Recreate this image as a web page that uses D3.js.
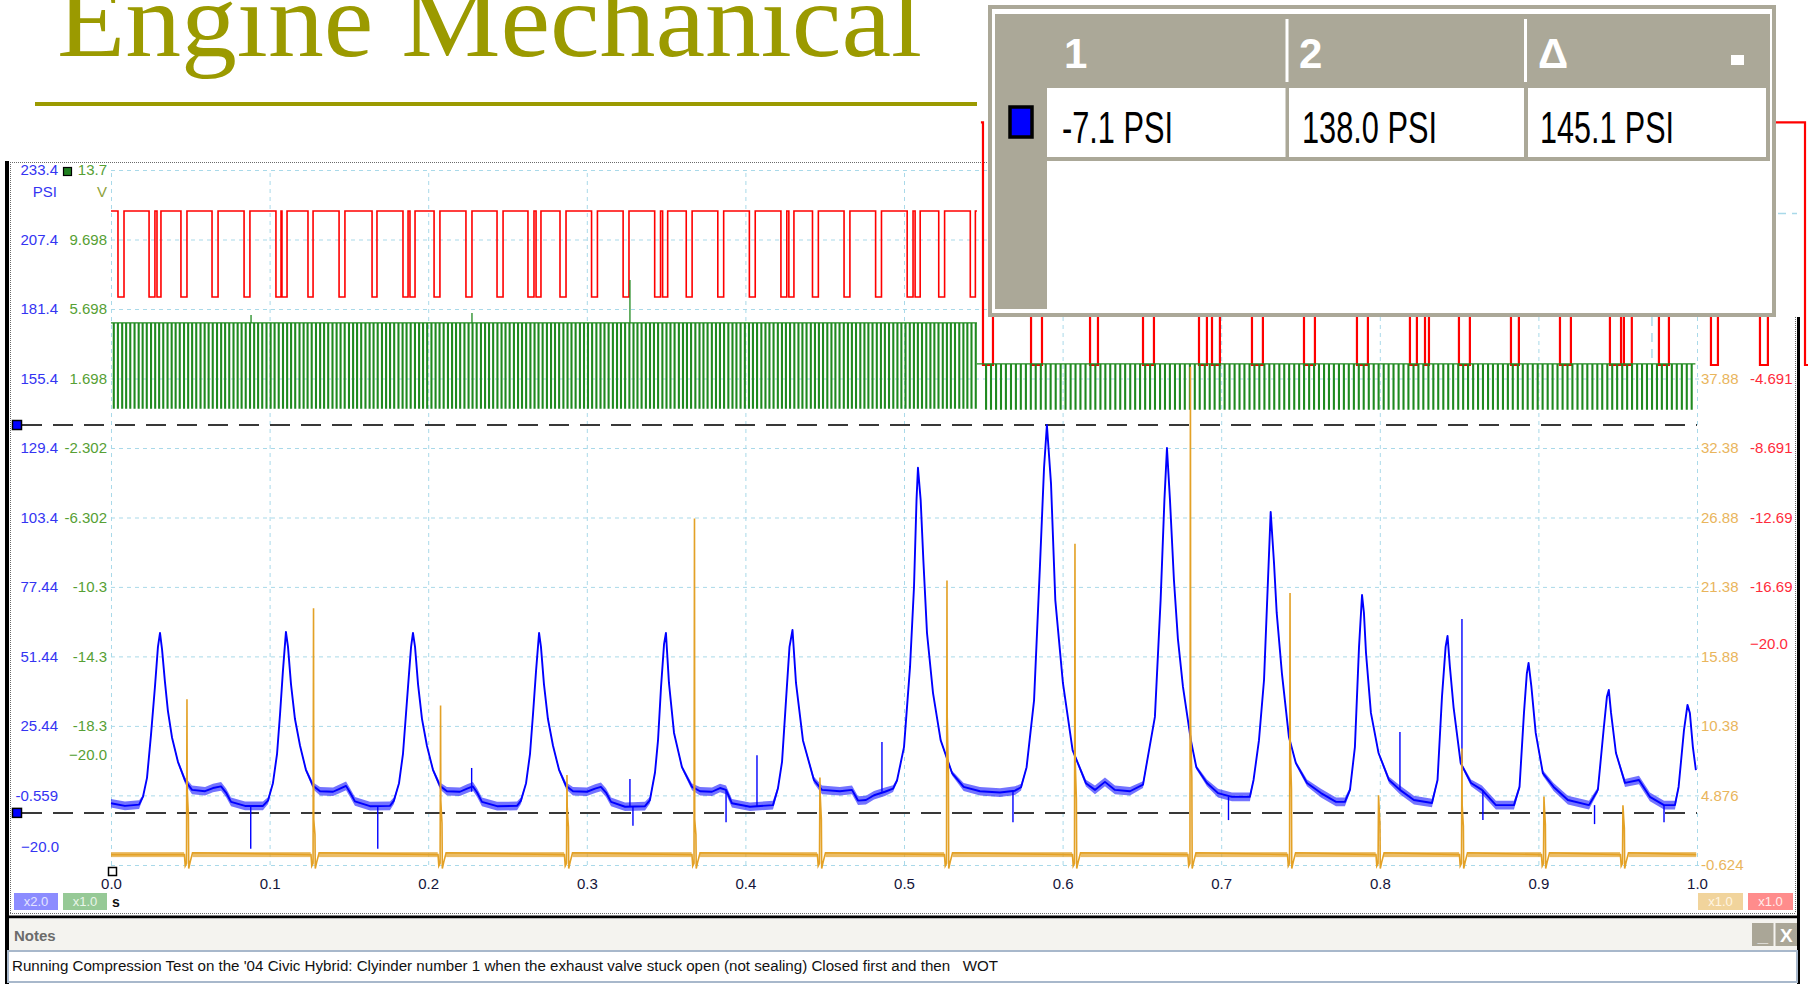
<!DOCTYPE html>
<html><head><meta charset="utf-8">
<script src="https://cdn.jsdelivr.net/npm/d3@7"></script>
<style>
html,body{margin:0;padding:0;background:#fff;}
svg{display:block;}
</style></head><body>
<svg id="chart" width="1808" height="984"></svg>
<script>
// ---------------- data ----------------
const titleText = "Engine Mechanical";
const notesText = "Running Compression Test on the '04 Civic Hybrid: Clyinder number 1 when the exhaust valve stuck open (not sealing) Closed first and then   WOT";

// time axis (seconds)
const timeTicks = ["0.0","0.1","0.2","0.3","0.4","0.5","0.6","0.7","0.8","0.9","1.0"];
// channel A (PSI, blue) and channel B (V, green) on the left
const psiTicks = ["233.4","207.4","181.4","155.4","129.4","103.4","77.44","51.44","25.44","-0.559"];
const voltTicks = ["13.7","9.698","5.698","1.698","-2.302","-6.302","-10.3","-14.3","-18.3"];
// channel C (orange) and channel D (red) on the right
const orangeTicks = ["37.88","32.38","26.88","21.38","15.88","10.38","4.876","-0.624"];
const redTicks = ["-4.691","-8.691","-12.69","-16.69"];
const lowerLimit = -20.0;

// ruler positions on channel A (PSI)
const cursorPsi = [-7.1, 138.0];

// channel A pressure: [time ms, PSI, noise half-band PSI]
const psiTrace = [
[0,-3.5,1.3],[8.8,-4.5,1.3],[17.7,-4.0,1.3],[20.2,-1,0.5],[22.7,6,0],[25.2,22,0],[27.7,40,0],[29.6,55,0],[30.9,60.2,0],[32.2,54,0],[34.0,42,0],[35.9,31,0],[38.5,21,0.3],[42.2,12,0.6],[46.7,5,1],[51.1,1.5,1.3],[59.3,1.0,1.3],[64.3,2.2,1.3],[69.4,2.8,1.3],[72.5,0.5,1.3],[75.7,-3.0,1.3],[84.5,-4.5,1.3],[95.8,-4.5,1.3],
[99.0,-2.5,1],[102.1,4,0.3],[104.7,15,0],[106.6,30,0],[108.4,46,0],[110.3,60.6,0],[111.6,55,0],[113.5,41,0],[116.0,28,0],[119.2,18,0.3],[122.9,9,0.6],[127.4,3,1],[131.8,1.0,1.3],[140.0,0.8,1.3],[144.4,2.0,1.3],[148.2,3.0,1.3],[150.7,0.5,1.3],[153.8,-2.8,1.3],[163.3,-4.6,1.3],[175.9,-4.5,1.3],
[178.4,-2.5,1],[181.6,4,0.3],[184.1,15,0],[186.0,30,0],[187.9,45,0],[189.2,55,0],[190.4,60.2,0],[191.7,55,0],[193.6,41,0],[196.1,28,0],[199.2,18,0.3],[203.0,9,0.6],[207.4,3,1],[211.8,1.0,1.3],[220.0,0.8,1.3],[224.5,2.0,1.3],[228.2,2.8,1.3],[230.8,0.5,1.3],[233.9,-3.0,1.3],[243.4,-4.6,1.3],[256.0,-4.5,1.3],
[258.5,-2.5,1],[261.7,4,0.3],[264.2,15,0],[266.1,30,0],[268.0,46,0],[269.9,60.2,0],[271.1,55,0],[273.0,41,0],[275.5,28,0],[278.7,18,0.3],[282.5,9,0.6],[286.9,3,1],[291.3,1.0,1.3],[300.1,0.8,1.3],[305.2,2.0,1.3],[308.9,2.6,1.3],[312.1,0.5,1.3],[315.3,-3.0,1.3],[324.1,-4.8,1.3],[336.7,-4.6,1.3],
[339.8,-2.3,1],[343.0,8,0.3],[344.9,20,0],[346.8,40,0],[348.7,56,0],[349.9,60.2,0],[351.8,41.5,0],[355.0,22.8,0.3],[360.0,10,0.6],[366.3,2.6,1],[371.4,1.0,1.3],[378.9,0.8,1.3],[384.0,2.2,1.3],[387.8,1.5,1.3],[391.5,-3.5,1.3],[402.9,-4.8,1.3],[417.4,-4.2,1.3],
[420.5,2,0.8],[423.1,12,0.2],[425.6,35,0],[427.8,55,0],[429.7,61.3,0],[431.9,41.5,0],[436.3,20,0.3],[443.2,5.2,1],[448.3,1.5,1.3],[459.6,1.0,1.3],[467.2,1.5,1.3],[471.0,-2.5,1.3],[476.0,-2.3,1.3],[481.1,-0.5,1.3],[488.0,0.8,1.3],[493.1,2.0,1],
[495.6,5,0.5],[500.0,17.5,0],[503.8,47.5,0],[506.3,77.4,0],[507.9,110,0],[508.8,122,0],[510.5,110,0],[512.2,87.5,0],[514.5,60.2,0],[518.3,37.7,0],[523.1,20.1,0.3],[530.3,7.8,0.7],[537.6,2.6,1.2],[547.9,1.0,1.3],[560.5,0.5,1.3],[570.0,1.2,1.3],[573.8,2.5,1],
[577.3,10,0.3],[582.0,35,0],[585.7,85,0],[588.3,122,0],[590.1,138,0],[592.7,116,0],[595.4,72.5,0],[600.2,41.5,0],[606.3,16.4,0.4],[614.7,4,1],[620.4,1.5,1.3],[626.7,4.5,1.3],[633.0,1.5,1.3],[642.5,1.0,1.3],[650.7,3.5,1],
[658.2,28.8,0],[661.8,72.5,0],[664.2,110,0],[665.8,129.4,0],[667.7,110,0],[670.2,80,0],[672.7,58,0],[675.9,40,0],[680.9,20,0.3],[684.3,10,0.6],[691.0,4.1,1],[698.0,0.3,1.3],[706.8,-1.1,1.3],[718.1,-1.1,1.3],
[720.4,5.2,0.5],[723.8,20,0],[727.0,42.6,0],[729.5,80,0],[731.2,105.5,0],[733.3,86.4,0],[735.0,67.7,0],[738.3,45,0],[742.7,21.3,0.3],[747.1,11.5,0.6],[754.1,4.1,1],[762.9,0.3,1.3],[772.4,-3.0,1.3],[778.0,-3.0,1.3],
[781.2,1.5,0.8],[784.3,17.5,0],[786.9,55,0],[788.8,74.4,0],[790.0,67.7,0],[791.3,52.7,0],[794.4,30.3,0.2],[799.2,15.3,0.5],[805.8,5.2,1],[812.7,1.5,1.3],[821.5,-2.3,1.3],[832.9,-3.4,1.3],
[836.4,5.2,0.5],[839.2,36.3,0],[841.5,55,0],[842.7,59.1,0],[844.2,47.5,0],[846.5,32.5,0],[851.0,11.5,0.5],[857.5,4.1,1],[864.4,1.5,1.3],[873.2,-4.2,1.3],[884.6,-4.2,1.3],
[888.1,2.6,0.8],[890.9,30.3,0],[892.7,45,0],[893.8,49,0],[895.6,40,0],[898.3,22.8,0.3],[902.8,7.8,0.8],[909.6,2.6,1.2],[918.6,-2.3,1.3],[931.9,-4.2,1.3],
[937.5,1.5,0.8],[941.1,23.9,0],[943.2,36.3,0],[944.4,38.9,0],[945.8,30.3,0],[948.9,15.3,0.5],[954.6,4.1,1.2],[963.4,5.2,1.3],[970.3,-1.1,1.3],[979.2,-4.2,1.3],[986.1,-4.2,1.3],
[988.4,2.6,0.8],[991.8,23.9,0],[994.0,33.3,0],[995.5,30.3,0],[997.4,17.5,0.3],[999.3,8.9,0.5]
];
// channel A single-sample glitches: [time ms, from PSI, to PSI]
const psiGlitches = [[88.1,-4.5,-20.5],[168.2,-4.6,-20.5],[227.4,0.8,9.7],[327.2,-4.6,5.6],[329.1,-4.6,-11.9],[387.8,1.5,-10.6],[407.3,-4.8,14.5],[486.1,0.8,19.4],[568.7,1.0,-10.6],[704.6,-1.1,-9.8],[812.7,1.5,23.2],[851.8,11.5,65.4],[865.0,1.5,-9.8],[935.4,-4.2,-11.3],[979.2,-4.2,-10.6]];

// channel C ignition events: [time ms, peak V, burn V]
const orangeSparks = [[47.9,12.5,5.5],[127.7,19.7,3.0],[207.8,12.0,4.5],[287.5,6.5,4.0],[367.9,26.8,3.0],[447.0,6.3,5.0],[527.1,21.9,11.1],[607.8,24.8,7.7],[680.6,38.8,10.4],[743.4,20.9,9.0],[799.2,4.9,4.5],[851.8,8.6,4.1],[903.5,4.8,4.3],[953.3,4.1,3.8]];

// channel D (red) low pulses [fall ms, rise ms], first part of the capture
const redPulsesA = [[4.4,8.2],[24.0,27.7],[29.0,31.5],[44.1,47.9],[63.7,67.5],[83.9,87.6],[104.0,107.2],[107.8,111.0],[124.2,127.4],[143.8,147.5],[164.6,167.7],[184.1,187.3],[188.5,191.7],[203.7,207.4],[223.8,227.6],[243.4,247.2],[262.9,266.7],[268.0,271.1],[283.1,286.9],[303.0,306.7],[322.9,326.6],[342.8,346.5],[347.8,351.0],[362.7,366.4],[382.6,386.3],[402.5,406.2],[422.4,426.1],[427.4,430.6],[442.3,446.0],[462.2,465.9],[482.1,485.8],[502.0,505.7],[507.0,510.2],[521.9,525.6],[541.8,545.0]];
// channel D low pulses in the later part, drawn with a taller gain
const redPulsesB = [[549.8,556.1],[580.1,587.0],[617.3,622.3],[650.7,657.6],[686.0,691.0],[694.2,699.2],[719.4,726.3],[752.2,759.1],[785.6,792.5],[819.0,823.4],[828.5,831.0],[849.9,856.8],[882.7,887.7],[913.6,920.5],[945.1,952.1],[953.9,958.9],[976.0,982.3],[1008.8,1013.2],[1039.7,1044.7],[1068.1,1080.0]];

// channel B (green) tooth dips, ms
const greenDipsA = [1.5,4.1,6.8,9.3,11.9,14.6,17.2,19.7,22.3,25.0,27.6,30.1,32.7,35.4,38.0,40.5,43.1,45.8,48.4,50.9,53.5,56.2,58.8,61.3,63.9,66.6,69.2,71.7,74.3,77.0,79.6,82.1,84.7,87.4,90.0,92.5,95.1,97.8,100.4,102.9,105.5,108.2,110.8,113.3,115.9,118.6,121.2,123.7,126.3,129.0,131.6,134.1,136.7,139.4,142.0,144.5,147.1,149.8,152.4,154.9,157.5,160.2,162.8,165.3,167.9,170.6,173.2,175.7,178.3,181.0,183.6,186.1,188.7,191.4,194.0,196.5,199.1,201.8,204.4,206.9,209.5,212.2,214.8,217.3,219.9,222.6,225.2,227.7,230.3,233.0,235.6,238.1,240.7,243.4,246.0,248.5,251.1,253.8,256.4,258.9,261.5,264.2,266.8,269.3,271.9,274.6,277.2,279.7,282.3,285.0,287.6,290.1,292.7,295.4,298.0,300.5,303.1,305.8,308.4,310.9,313.5,316.2,318.8,321.3,323.9,326.6,329.2,331.7,334.3,337.0,339.6,342.1,344.7,347.4,350.0,352.5,355.1,357.8,360.4,362.9,365.5,368.2,370.8,373.3,375.9,378.6,381.2,383.7,386.3,389.0,391.6,394.1,396.7,399.4,402.0,404.5,407.1,409.8,412.4,414.9,417.5,420.2,422.8,425.3,427.9,430.6,433.2,435.7,438.3,441.0,443.6,446.1,448.7,451.4,454.0,456.5,459.1,461.8,464.4,466.9,469.5,472.2,474.8,477.3,479.9,482.6,485.2,487.7,490.3,493.0,495.6,498.1,500.7,503.4,506.0,508.5,511.1,513.8,516.4,518.9,521.5,524.2,526.8,529.3,531.9,534.6,537.2,539.7,542.3,545.0];
const greenDipsB = [551.5,554.6,557.8,560.9,564.0,567.2,570.3,573.4,576.6,579.7,582.8,586.0,589.1,592.2,595.4,598.5,601.6,604.8,607.9,611.0,614.2,617.3,620.4,623.6,626.7,629.8,633.0,636.1,639.2,642.4,645.5,648.6,651.8,654.9,658.0,661.2,664.3,667.4,670.6,673.7,676.8,680.0,683.1,686.2,689.4,692.5,695.6,698.8,701.9,705.0,708.2,711.3,714.4,717.6,720.7,723.8,727.0,730.1,733.2,736.4,739.5,742.6,745.8,748.9,752.0,755.2,758.3,761.4,764.6,767.7,770.8,774.0,777.1,780.2,783.4,786.5,789.6,792.8,795.9,799.0,802.2,805.3,808.4,811.6,814.7,817.8,821.0,824.1,827.2,830.4,833.5,836.6,839.8,842.9,846.0,849.2,852.3,855.4,858.6,861.7,864.8,868.0,871.1,874.2,877.4,880.5,883.6,886.8,889.9,893.0,896.2,899.3,902.4,905.6,908.7,911.8,915.0,918.1,921.2,924.4,927.5,930.6,933.8,936.9,940.0,943.2,946.3,949.4,952.6,955.7,958.8,962.0,965.1,968.2,971.4,974.5,977.6,980.8,983.9,987.0,990.2,993.3,996.4];
// channel B single glitches: [time ms, V]
const greenGlitches = [[88.3,5.35],[227.6,5.47],[327.2,7.37]];

// ---------------- layout & scales ----------------
const svg = d3.select("#chart");
const FONT = "'Liberation Sans', Arial, sans-serif";
const plot = {left:111, right:1697, top:170, bottom:865};
const x = d3.scaleLinear().domain([0,1000]).range([plot.left, plot.right]);
const yPsi = d3.scaleLinear().domain([233.4,-26.6]).range([plot.top, plot.bottom]);
const yVolt = d3.scaleLinear().domain([13.7,-26.3]).range([plot.top, plot.bottom]);
const yOrange = d3.scaleLinear().domain([54.38,-0.624]).range([plot.top, plot.bottom]);
const yRed = d3.scaleLinear().domain([7.309,-32.691]).range([plot.top, plot.bottom]);
// later segment of channels B and D is shown at a different vertical gain
const yRedB = d3.scaleLinear().domain([0,5]).range([365,120]);
const yGreenB = d3.scaleLinear().domain([0,5]).range([409,363]);

const COL = {blue:"#0000ff", green:"#1f8a1f", red:"#ff0000", orange:"#e3a126",
  grid:"#a9d9e9", lblBlue:"#3434f2", lblGreen:"#56a034", lblOrange:"#e9b55c", lblRed:"#ff2b3b"};

// ---------------- plot window frame ----------------
svg.append("rect").attr("x",5).attr("y",161).attr("width",4).attr("height",823).attr("fill","#000");
svg.append("rect").attr("x",1797).attr("y",317).attr("width",3).attr("height",667).attr("fill","#000");
const dotted = (x1,y1,x2,y2) => svg.append("line").attr("x1",x1).attr("y1",y1).attr("x2",x2).attr("y2",y2)
  .attr("stroke","#6a6a6a").attr("stroke-width",1).attr("stroke-dasharray","1,1");
dotted(10.5,162,10.5,913); dotted(10,162.5,988,162.5); dotted(10,913.5,1796,913.5); dotted(1795.5,317,1795.5,913);

// ---------------- grid ----------------
const gGrid = svg.append("g");
gGrid.append("g").attr("transform",`translate(0,${plot.bottom})`)
  .call(d3.axisBottom(x).tickValues(timeTicks.map(t=>+t*1000)).tickSize(-(plot.bottom-plot.top)).tickFormat(""))
  .call(g=>g.select(".domain").remove());
const gridPsi = psiTicks.map(Number).concat([yPsi.domain()[1]]);
gGrid.append("g").attr("transform",`translate(${plot.left},0)`)
  .call(d3.axisLeft(yPsi).tickValues(gridPsi).tickSize(-(plot.right-plot.left+3)).tickFormat(""))
  .call(g=>g.select(".domain").remove());
gGrid.selectAll("line").attr("stroke",COL.grid).attr("stroke-width",1).attr("stroke-dasharray","4,4");
// grid marks of the later segment
svg.append("line").attr("x1",x(971.6)).attr("x2",x(971.6)).attr("y1",317).attr("y2",362)
  .attr("stroke",COL.grid).attr("stroke-dasharray","9,7").attr("stroke-width",1.5);
svg.append("line").attr("x1",1778).attr("x2",1797).attr("y1",213.5).attr("y2",213.5)
  .attr("stroke",COL.grid).attr("stroke-dasharray","8,6").attr("stroke-width",1.5);

// ---------------- rulers ----------------
cursorPsi.forEach(c => {
  svg.append("line").attr("x1",22).attr("x2",plot.right).attr("y1",yPsi(c)).attr("y2",yPsi(c))
    .attr("stroke","#383838").attr("stroke-width",2).attr("stroke-dasharray","20,11");
  svg.append("rect").attr("x",12.5).attr("y",yPsi(c)-4.5).attr("width",9).attr("height",9)
    .attr("fill","#0000ff").attr("stroke","#000").attr("stroke-width",1.5);
});

// ---------------- traces ----------------
const stepPts = (pulses, t0, t1, hi, lo) => {
  const pts = [[t0,hi]];
  pulses.forEach(([f,r]) => pts.push([f,hi],[f,lo],[r,lo],[r,hi]));
  pts.push([t1,hi]);
  return pts;
};
const lineOf = ys => d3.line().x(d=>x(d[0])).y(d=>ys(d[1]));

// channel D (red)
svg.append("path").datum(stepPts(redPulsesA,0,546.0,4.95,0))
  .attr("d",lineOf(yRed)).attr("fill","none").attr("stroke",COL.red).attr("stroke-width",1.6);
svg.append("path").datum(stepPts(redPulsesB,548.5,1080,4.95,0))
  .attr("d",lineOf(yRedB)).attr("fill","none").attr("stroke",COL.red).attr("stroke-width",2.2);

// channel B (green)
const dipW = 0.5;
svg.append("path").datum(stepPts(greenDipsA.map(d=>[d,d+dipW]),0,546.0,4.9,0))
  .attr("d",lineOf(yVolt)).attr("fill","none").attr("stroke",COL.green).attr("stroke-width",1.3);
svg.append("path").datum(stepPts(greenDipsB.map(d=>[d,d+dipW]),546.0,999.0,4.9,0))
  .attr("d",lineOf(yGreenB)).attr("fill","none").attr("stroke",COL.green).attr("stroke-width",1.3);
greenGlitches.forEach(([t,v]) => svg.append("line").attr("x1",x(t)).attr("x2",x(t))
  .attr("y1",yVolt(4.9)).attr("y2",yVolt(v)).attr("stroke",COL.green).attr("stroke-width",1.3));

// channel A (blue): sample spread band (lighter) + trace
svg.append("path").datum(psiTrace)
  .attr("d", d3.area().x(d=>x(d[0])).y0(d=>yPsi(d[1]-d[2]*1.25)).y1(d=>yPsi(d[1]+d[2]*1.25)))
  .attr("fill",COL.blue).attr("fill-opacity",0.55);
svg.append("path").datum(psiTrace)
  .attr("d", lineOf(yPsi)).attr("fill","none").attr("stroke",COL.blue).attr("stroke-width",1.9)
  .attr("stroke-linejoin","round");
psiGlitches.forEach(([t,a,b]) => svg.append("line").attr("x1",x(t)).attr("x2",x(t))
  .attr("y1",yPsi(a)).attr("y2",yPsi(b)).attr("stroke",COL.blue).attr("stroke-width",1.4));

// channel C (orange): baseline with ignition events
const orangePts = [[0,0.2]];
orangeSparks.forEach(([ts,peak,burn]) => {
  orangePts.push([ts-1.6,0.2],[ts-1.1,-0.7],[ts-0.3,-0.5],[ts,peak],[ts+0.15,burn],[ts+0.5,burn*0.8],
    [ts+0.9,burn*0.6],[ts+1.1,-0.9],[ts+2.0,-0.4],[ts+3.5,0.35]);
});
orangePts.push([999.5,0.2]);
// baseline spread band between events
const bandEdges = [0].concat(orangeSparks.flatMap(s=>[s[0]-1.8, s[0]+3.5])).concat([999.5]);
for (let i=0;i<bandEdges.length;i+=2){
  svg.append("rect").attr("x",x(bandEdges[i])).attr("width",x(bandEdges[i+1])-x(bandEdges[i]))
    .attr("y",yOrange(0.4)).attr("height",yOrange(0.0)-yOrange(0.4)).attr("fill",COL.orange).attr("fill-opacity",0.7);
}
svg.append("path").datum(orangePts).attr("d",lineOf(yOrange))
  .attr("fill","none").attr("stroke",COL.orange).attr("stroke-width",1.6);

// ---------------- axes labels ----------------
const styleAxis = (g, color) => {
  g.select(".domain").remove();
  g.attr("font-family",FONT).attr("font-size",15);
  g.selectAll("text").attr("fill",color);
};
svg.append("g").attr("transform","translate(58,0)")
  .call(d3.axisLeft(yPsi).tickValues(psiTicks.map(Number)).tickFormat((d,i)=>psiTicks[i]).tickSize(0).tickPadding(0))
  .call(g=>styleAxis(g,COL.lblBlue));
svg.append("g").attr("transform","translate(107,0)")
  .call(d3.axisLeft(yVolt).tickValues(voltTicks.map(Number)).tickFormat((d,i)=>voltTicks[i]).tickSize(0).tickPadding(0))
  .call(g=>styleAxis(g,COL.lblGreen));
svg.append("g").attr("transform","translate(1701,0)")
  .call(d3.axisRight(yOrange).tickValues(orangeTicks.map(Number)).tickFormat((d,i)=>orangeTicks[i]).tickSize(0).tickPadding(0))
  .call(g=>styleAxis(g,COL.lblOrange));
svg.append("g").attr("transform","translate(1750,0)")
  .call(d3.axisRight(yRed).tickValues(redTicks.map(Number)).tickFormat((d,i)=>redTicks[i]).tickSize(0).tickPadding(0))
  .call(g=>styleAxis(g,COL.lblRed));
svg.append("g").attr("transform",`translate(0,878)`)
  .call(d3.axisBottom(x).tickValues(timeTicks.map(t=>+t*1000)).tickFormat((d,i)=>timeTicks[i]).tickSize(0).tickPadding(0))
  .call(g=>styleAxis(g,"#15153a"));

const label = (txt,xx,yy,color,anchor) => svg.append("text").attr("x",xx).attr("y",yy).attr("dy","0.32em")
  .attr("fill",color).attr("font-family",FONT).attr("font-size",15).attr("text-anchor",anchor||"start").text(txt);
const fmtLimit = d3.format(".1f");
label(fmtLimit(lowerLimit),59,yPsi(lowerLimit),COL.lblBlue,"end");
label(fmtLimit(lowerLimit),107,yVolt(lowerLimit),COL.lblGreen,"end");
label(fmtLimit(lowerLimit),1750,yRed(lowerLimit),COL.lblRed,"start");
label("PSI",57,192,COL.lblBlue,"end");
label("V",107,192,"#8ea23a","end");
svg.append("rect").attr("x",63.5).attr("y",167.5).attr("width",8).attr("height",8)
  .attr("fill","#1f7f1f").attr("stroke","#000").attr("stroke-width",1.2);
// trigger marker
svg.append("rect").attr("x",108.5).attr("y",867.5).attr("width",8).attr("height",8)
  .attr("fill","#fff").attr("stroke","#000").attr("stroke-width",1.5);

// zoom badges
const badge = (xx,w,fill,txtFill,txt) => {
  svg.append("rect").attr("x",xx).attr("y",893).attr("width",w).attr("height",17).attr("fill",fill);
  svg.append("text").attr("x",xx+w/2).attr("y",906).attr("text-anchor","middle").attr("fill",txtFill)
    .attr("font-family",FONT).attr("font-size",13).text(txt);
};
badge(14,44,"#8c8cff","#e4e4ff","x2.0");
badge(63,44,"#96c996","#eaf5ea","x1.0");
badge(1698,45,"#f1d49c","#fff6e4","x1.0");
badge(1748,45,"#ff8c8c","#ffecec","x1.0");
svg.append("text").attr("x",112).attr("y",907).attr("fill","#111").attr("font-family",FONT)
  .attr("font-size",14).attr("font-weight","bold").text("s");

// ---------------- notes panel ----------------
svg.append("rect").attr("x",5).attr("y",915.5).attr("width",1795).attr("height",3).attr("fill","#000");
svg.append("rect").attr("x",9).attr("y",918.5).attr("width",1788).attr("height",32).attr("fill","#f4f3ef");
svg.append("text").attr("x",14).attr("y",941).attr("fill","#6b6b6b").attr("font-family",FONT)
  .attr("font-size",15).attr("font-weight","bold").text("Notes");
[[1752,"_"],[1775.5,"X"]].forEach(([bx,g]) => {
  svg.append("rect").attr("x",bx).attr("y",923).attr("width",21.5).attr("height",23).attr("fill","#aaa697");
  svg.append("text").attr("x",bx+10.75).attr("y",942).attr("text-anchor","middle").attr("fill","#fff")
    .attr("font-family",FONT).attr("font-size",19).attr("font-weight","bold").text(g);
});
svg.append("rect").attr("x",8).attr("y",951).attr("width",1789).attr("height",31)
  .attr("fill","#fff").attr("stroke","#a8b8cb").attr("stroke-width",2);
svg.append("text").attr("x",12).attr("y",971).attr("fill","#111").attr("font-family",FONT)
  .attr("font-size",15.5).attr("textLength",986).attr("lengthAdjust","spacingAndGlyphs")
  .style("white-space","pre").text(notesText);

// ---------------- ruler readout table ----------------
const TG = "#aba898";
const tb = svg.append("g");
tb.append("rect").attr("x",990).attr("y",7).attr("width",784).attr("height",308)
  .attr("fill","#fff").attr("stroke",TG).attr("stroke-width",4);
tb.append("rect").attr("x",995).attr("y",14).attr("width",775).attr("height",74).attr("fill",TG);
tb.append("rect").attr("x",995).attr("y",14).attr("width",52).attr("height",295).attr("fill",TG);
tb.append("rect").attr("x",1047).attr("y",88).attr("width",723).attr("height",73).attr("fill",TG);
const cells = [[1047,1285.5],[1289,1524],[1528,1766]];
cells.forEach(([a,b]) => tb.append("rect").attr("x",a).attr("y",88).attr("width",b-a).attr("height",69).attr("fill","#fff"));
[1285.5,1524].forEach(dx => tb.append("rect").attr("x",dx).attr("y",19).attr("width",3).attr("height",63).attr("fill","#fff"));
const heads = ["1","2","\u0394"];
[1064,1299,1538].forEach((hx,i) => tb.append("text").attr("x",hx).attr("y",68).attr("fill","#fff")
  .attr("font-family",FONT).attr("font-size",42).attr("font-weight","bold").text(heads[i]));
tb.append("rect").attr("x",1731).attr("y",55).attr("width",13).attr("height",10).attr("fill","#fff");
tb.append("rect").attr("x",1010).attr("y",107).attr("width",22).attr("height",30)
  .attr("fill","#0000ff").attr("stroke","#000").attr("stroke-width",3.5);
const readouts = [cursorPsi[0], cursorPsi[1], cursorPsi[1]-cursorPsi[0]];
const valLen = [111,135,134];
[1062,1302,1540].forEach((vx,i) => tb.append("text").attr("x",vx).attr("y",143).attr("fill","#000")
  .attr("font-family","'Liberation Sans Narrow','Liberation Sans',Arial,sans-serif").attr("font-size",44)
  .attr("textLength",valLen[i]).attr("lengthAdjust","spacingAndGlyphs")
  .text(readouts[i].toFixed(1) + " PSI"));

// ---------------- slide title ----------------
svg.append("text").attr("x",57).attr("y",56).attr("fill","#9b9a00")
  .attr("font-family","'Liberation Serif','Times New Roman',serif").attr("font-size",106)
  .attr("textLength",865).attr("lengthAdjust","spacingAndGlyphs").text(titleText);
svg.append("rect").attr("x",35).attr("y",102).attr("width",942).attr("height",4).attr("fill","#9b9a00");
</script>
</body></html>
